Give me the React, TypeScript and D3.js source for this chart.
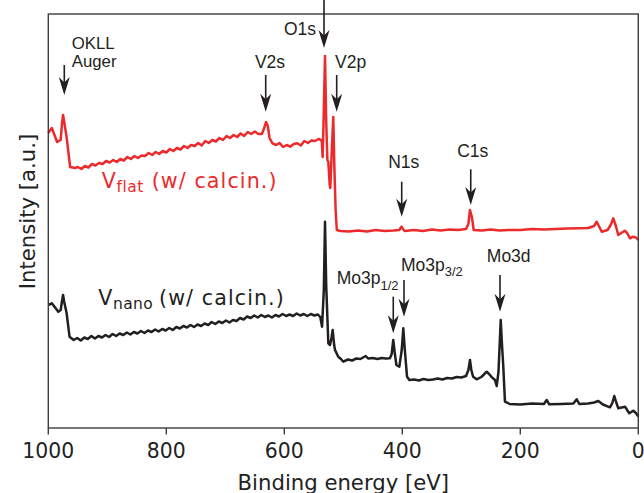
import React from "react";
import * as d3 from "d3";

// XPS survey spectra: [binding energy (eV), intensity (a.u.)]
const flatSpectrum: [number, number][] = [
  [1000, 295], [994, 300], [985, 286], [979, 288], [977, 303], [975, 313], [973, 306], [969, 291],
  [963, 261], [955, 260], [950, 261], [944, 259], [938, 262], [932, 260.5], [926, 264], [920, 262.5],
  [914, 265], [908, 264], [902, 267], [896, 265.5], [890, 268], [884, 266], [878, 269], [872, 267.5],
  [866, 271], [860, 269], [854, 272], [848, 270], [842, 272.5], [836, 272], [830, 275], [824, 273],
  [818, 276], [812, 274], [806, 277], [800, 275.5], [794, 279], [788, 277], [782, 280], [776, 278.5],
  [770, 282], [764, 280], [758, 283], [752, 282], [746, 285], [740, 282.5], [734, 287], [728, 285],
  [722, 288], [716, 286.5], [710, 290], [704, 288], [698, 292], [692, 290], [686, 293], [680, 291],
  [674, 294.5], [668, 292], [662, 296], [656, 294], [650, 296.5], [644, 294], [638, 294], [634, 300],
  [631, 306], [628, 302], [625, 290], [620, 284.7], [614, 283], [608, 285], [602, 281], [596, 283],
  [590, 281.3], [584, 284], [578, 284.7], [572, 282.5], [566, 287], [560, 285], [554, 287.5], [548, 287],
  [542, 289], [538, 288], [536.5, 287], [535, 271], [533, 318], [531, 372], [529, 308], [527, 268],
  [525.4, 266], [523, 243], [522, 240], [519.5, 278], [517, 311], [515, 258], [513, 218], [511, 198],
  [505, 197], [490, 196.5], [475, 197.5], [460, 196.5], [445, 198], [430, 197], [415, 197.5], [405, 198],
  [403, 200], [401, 201.3], [399, 199], [396, 197], [380, 198], [365, 197], [350, 198.5], [335, 197.5],
  [320, 198.5], [305, 198], [292, 199], [288, 204], [285.3, 218], [282, 211], [279, 198], [265, 197.5],
  [250, 198.5], [235, 197.5], [220, 198], [200, 198], [180, 199], [160, 198.5], [140, 199], [120, 199.5],
  [100, 199.7], [85, 200], [75, 202], [70.5, 206.3], [66, 201], [62, 196.3], [52, 198], [46, 204],
  [42.4, 209.7], [38, 202], [34, 193], [29, 195], [23, 197.3], [19, 195], [14, 189.7], [9, 191.3],
  [4, 190.5], [0, 188],
];

const nanoSpectrum: [number, number][] = [
  [1000, 123], [994, 124.7], [983, 116.3], [979, 118], [977, 126], [975, 133], [973, 126], [969, 115],
  [964, 91.3], [957, 88], [951, 90], [945, 87.5], [939, 90.5], [933, 89], [927, 92], [921, 89.5],
  [915, 92], [909, 90.5], [903, 93], [897, 91], [891, 94], [885, 92], [879, 94.5], [873, 93],
  [867, 95.5], [861, 93.5], [855, 96], [849, 94.5], [843, 97], [837, 95], [831, 97.5], [825, 96],
  [819, 98.5], [813, 96.5], [807, 99], [801, 97.5], [795, 100], [789, 98], [783, 101], [777, 99.5],
  [771, 102], [765, 100.5], [759, 103], [753, 101], [747, 103.5], [741, 102], [735, 104.5], [729, 103],
  [723, 106], [717, 104], [711, 106.5], [705, 105], [699, 107.5], [693, 105.5], [687, 108], [681, 107],
  [675, 110], [669, 108.5], [663, 111.5], [657, 110], [651, 112.5], [645, 110.5], [639, 113], [633, 111],
  [627, 112.5], [621, 110.5], [615, 113], [609, 111.5], [603, 114], [597, 112], [591, 113.5], [585, 112],
  [579, 114.5], [573, 112.5], [567, 114], [561, 112], [555, 114], [549, 112.5], [543, 113.5], [539, 111],
  [536, 101.3], [533, 138], [531, 206.3], [529, 143], [525.4, 84.7], [522.5, 83], [520, 90], [518, 98],
  [515.5, 83], [514, 78], [508.5, 71.3], [504, 69], [500, 66.3], [492, 68.5], [485, 67.5], [478, 69.5],
  [471, 69], [465, 71], [462, 72], [458, 69.5], [450, 70], [442, 69], [435, 70], [428, 69.5],
  [421, 69.7], [418, 74], [415.3, 88], [413, 76], [410, 63], [405, 61.3], [401, 78], [398.3, 99.7],
  [396, 80], [392, 51.3], [388, 48], [380, 48.5], [372, 47.5], [364, 49], [356, 48], [348, 48.5],
  [340, 49.5], [332, 48.5], [324, 50], [316, 49.5], [308, 51], [300, 50.5], [292, 52], [288, 58],
  [285.3, 68], [283, 58], [280, 51.3], [274, 48.7], [266, 51], [260, 54.5], [257, 56.3], [253, 54],
  [248, 50.7], [243, 48], [240, 42], [237, 56], [235, 83], [233.2, 108], [231, 83], [228.8, 61.3],
  [226, 26.3], [218, 24], [200, 23.5], [180, 24.5], [160, 24], [155.3, 28], [151, 23.7], [130, 24],
  [110, 24.5], [104.4, 28.7], [100, 24], [85, 24.5], [75, 25.5], [67.8, 27], [60, 23.5], [48, 20.7],
  [44, 25], [40.7, 32], [37, 25], [33.9, 19.7], [28, 20.5], [22.5, 21.3], [19, 18], [15.3, 14.7],
  [8.5, 17.3], [4, 15], [0, 11.3],
];

const xTicks = [1000, 800, 600, 400, 200, 0];

// Peak assignments: arrow at `energy`, running from intensity `from` down to `to`
const peakLabels = [
  { id: "okll", lines: ["OKLL", "Auger"], sub: "", energy: 972.9, from: 363, to: 333 },
  { id: "v2s", lines: ["V2s"], sub: "", energy: 631.5, from: 353, to: 316.3 },
  { id: "o1s", lines: ["O1s"], sub: "", energy: 532.7, from: 428, to: 380 },
  { id: "v2p", lines: ["V2p"], sub: "", energy: 511.2, from: 353, to: 316.3 },
  { id: "n1s", lines: ["N1s"], sub: "", energy: 401, from: 246.3, to: 211.3 },
  { id: "c1s", lines: ["C1s"], sub: "", energy: 284, from: 258.7, to: 223 },
  { id: "mo3p12", lines: ["Mo3p"], sub: "1/2", energy: 415.3, from: 131.3, to: 94.7 },
  { id: "mo3p32", lines: ["Mo3p"], sub: "3/2", energy: 397.1, from: 148, to: 111.3 },
  { id: "mo3d", lines: ["Mo3d"], sub: "", energy: 234.4, from: 153, to: 116.3 },
];

// label placement relative to the arrow's upper end
const labelLayout: Record<
  string,
  { dx: number; dy: number; anchor: string; lineGap?: number; size?: number }
> = {
  okll: { dx: 7.4, dy: -16.5, anchor: "start", lineGap: 18.8, size: 16.8 },
  v2s: { dx: 4.3, dy: -6.7, anchor: "middle" },
  o1s: { dx: -8, dy: 35, anchor: "end" },
  v2p: { dx: -1.7, dy: -6.7, anchor: "start" },
  n1s: { dx: 2, dy: -13.4, anchor: "middle" },
  c1s: { dx: 2, dy: -12.6, anchor: "middle" },
  mo3p12: { dx: -56.6, dy: -12.4, anchor: "start" },
  mo3p32: { dx: -3, dy: -9.3, anchor: "start" },
  mo3d: { dx: 8.7, dy: -12.7, anchor: "middle" },
};

const W = 644;
const H = 493;
const plot = { left: 48.3, right: 638.3, top: 14, bottom: 428 };

const RED = "#ec2a2c";
const BLACK = "#231f20";
const FRAME = "#3d3d3d";
const SANS = "'DejaVu Sans', sans-serif";
const ARIAL = "'Liberation Sans', Arial, sans-serif";

export default function App() {
  const x = d3.scaleLinear().domain([1000, 0]).range([plot.left, plot.right]);
  const y = d3.scaleLinear().domain([0, 414]).range([plot.bottom, plot.top]);
  const line = d3
    .line<[number, number]>()
    .x((d) => x(d[0]))
    .y((d) => y(d[1]));

  return (
    <svg
      width={W}
      height={H}
      style={{ position: "absolute", left: 0, top: 0, background: "#fff" }}
    >
      {/* spectra */}
      <path d={line(nanoSpectrum) ?? ""} fill="none" stroke={BLACK} strokeWidth={2.5} strokeLinejoin="round" />
      <path d={line(flatSpectrum) ?? ""} fill="none" stroke={RED} strokeWidth={2.5} strokeLinejoin="round" />

      {/* frame */}
      <rect
        x={plot.left}
        y={plot.top}
        width={plot.right - plot.left}
        height={plot.bottom - plot.top}
        fill="none"
        stroke={FRAME}
        strokeWidth={1.4}
      />

      {/* x axis ticks */}
      {xTicks.map((t) => (
        <g key={t} transform={`translate(${x(t)},${plot.bottom})`}>
          <line y1={0} y2={6.5} stroke={FRAME} strokeWidth={1.4} />
          <text y={30.3} textAnchor="middle" fontFamily={SANS} fontSize={20.4} fill="#222">
            {t}
          </text>
        </g>
      ))}

      <text
        x={(plot.left + plot.right) / 2}
        y={489.5}
        textAnchor="middle"
        fontFamily={SANS}
        fontSize={21.2}
        fill="#222"
      >
        Binding energy [eV]
      </text>
      <text
        transform="translate(34.5,211.5) rotate(-90)"
        textAnchor="middle"
        fontFamily={SANS}
        fontSize={21.2}
        fill="#222"
      >
        Intensity [a.u.]
      </text>

      {/* series labels */}
      <text fontFamily={SANS} fill={RED} fontSize={20.6}>
        <tspan x={101.7} y={188.3}>V</tspan>
        <tspan x={116.5} y={191.8} fontSize={15.5} letterSpacing={0.5}>flat</tspan>
        <tspan x={151.7} y={188.3} letterSpacing={1.1}>(w/ calcin.)</tspan>
      </text>
      <text fontFamily={SANS} fill={BLACK} fontSize={20.6}>
        <tspan x={98.3} y={305}>V</tspan>
        <tspan x={113} y={308.5} fontSize={15.5} letterSpacing={0.4}>nano</tspan>
        <tspan x={159} y={305} letterSpacing={1.1}>(w/ calcin.)</tspan>
      </text>

      {/* peak assignments */}
      {peakLabels.map((p) => {
        const ax = x(p.energy);
        const y0 = y(p.from);
        const y1 = y(p.to);
        const lay = labelLayout[p.id];
        return (
          <g key={p.id}>
            <line x1={ax} x2={ax} y1={y0} y2={y1 - 12} stroke={BLACK} strokeWidth={1.6} />
            <path
              d={`M${ax},${y1} L${ax - 5.5},${y1 - 18} L${ax},${y1 - 12.5} L${ax + 5.5},${y1 - 18} Z`}
              fill={BLACK}
            />
            {p.lines.map((ln, i) => (
              <text
                key={i}
                x={ax + lay.dx}
                y={y0 + lay.dy + i * (lay.lineGap ?? 0)}
                textAnchor={lay.anchor}
                fontFamily={ARIAL}
                fontSize={lay.size ?? 17.5}
                fill={BLACK}
              >
                {ln}
                {p.sub ? (
                  <tspan fontSize={13} dy={5.5}>
                    {p.sub}
                  </tspan>
                ) : null}
              </text>
            ))}
          </g>
        );
      })}
    </svg>
  );
}
